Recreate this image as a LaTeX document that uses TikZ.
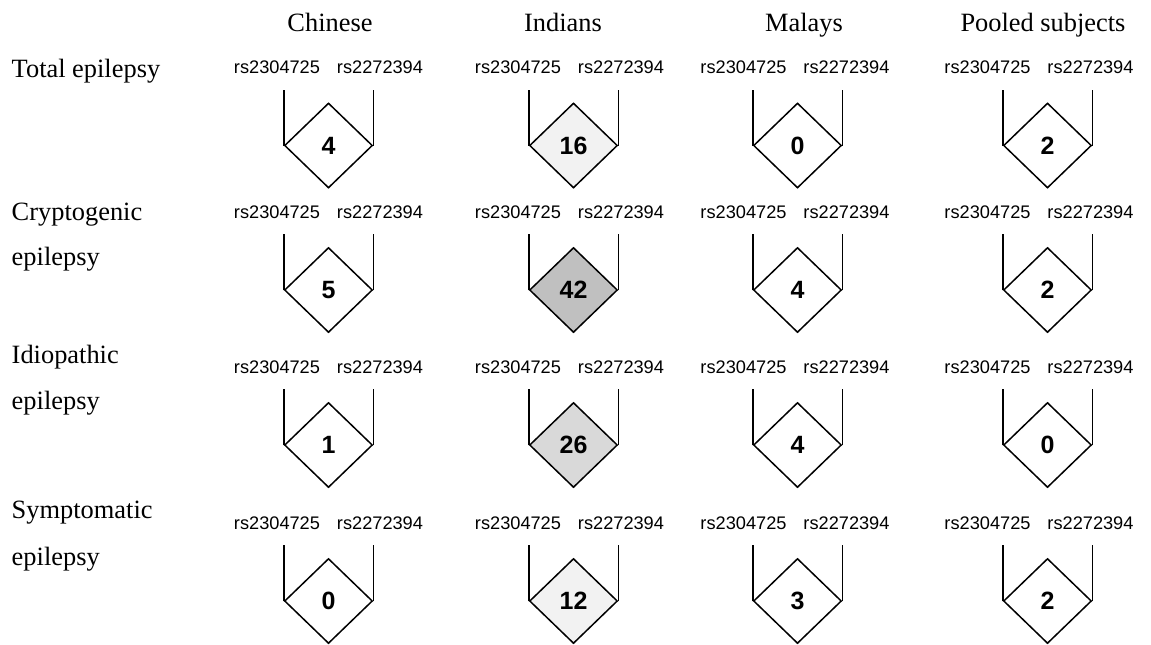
\documentclass[tikz,border=0pt]{standalone}
\usepackage{fontspec}
\setmainfont{Liberation Serif}
\newfontfamily\arialfont{Liberation Sans}
\definecolor{lightfill}{RGB}{242,242,242}
\definecolor{midfill}{RGB}{217,217,217}
\definecolor{darkfill}{RGB}{192,192,192}
\usetikzlibrary{shapes.geometric}

\tikzset{
  grouphead/.style={anchor=base, inner sep=0pt, font=\fontsize{13.2}{15}\selectfont},
  rowhead/.style={anchor=base west, inner sep=0pt, font=\fontsize{13.2}{15}\selectfont},
  snplabel/.style={anchor=base, inner sep=0pt, font=\arialfont\fontsize{9.1}{11}\selectfont},
  scorebox/.style={diamond, draw, inner sep=0pt, minimum width=44pt, minimum height=42.5pt,
    font=\arialfont\bfseries\fontsize{12.5}{14}\selectfont},
}

\begin{document}
\begin{tikzpicture}[x=0.5pt, y=-0.5pt, line width=0.75pt]
        \useasboundingbox (0,0) rectangle (1151,644);
        \node[grouphead] (head-chinese) at (330,31) {Chinese};
        \node[grouphead] (head-indians) at (563,31) {Indians};
        \node[grouphead] (head-malays) at (804,31) {Malays};
        \node[grouphead] (head-pooled) at (1043,31) {Pooled subjects};
        \node[rowhead] (row-total) at (11,77.5) {Total epilepsy};
        \node[rowhead] (row-crypto) at (11,220) {Cryptogenic};
        \node[rowhead] (row-crypto-b) at (11,265) {epilepsy};
        \node[rowhead] (row-idio) at (11,363) {Idiopathic};
        \node[rowhead] (row-idio-b) at (11,409) {epilepsy};
        \node[rowhead] (row-sympt) at (11,518) {Symptomatic};
        \node[rowhead] (row-sympt-b) at (11,565) {epilepsy};
        \foreach \r/\cy/\cells in {
            1/145.5/{4/white,16/lightfill,0/white,2/white},
            2/290/{5/white,42/darkfill,4/white,2/white},
            3/445/{1/white,26/midfill,4/white,0/white},
            4/601/{0/white,12/lightfill,3/white,2/white}}{
          \foreach \v/\shade [count=\c] in \cells {
            \pgfmathsetmacro\cx{{328.5,573.5,797.5,1047.5}[\c-1]}
            \pgfmathsetmacro\lx{{328.5,569.5,795,1039}[\c-1]}
            \node[snplabel] (snp-\r-\c) at (\lx,\cy-72) {rs2304725\hspace{8.5pt}rs2272394};
            \node[scorebox, fill=\shade] (score-\r-\c) at (\cx,\cy) {\raisebox{-1pt}{\v}};
            \draw (score-\r-\c.west) -- ++(0,-56);
            \draw (score-\r-\c.east) -- ++(0,-56);
          }
        }
      \end{tikzpicture}
\end{document}
